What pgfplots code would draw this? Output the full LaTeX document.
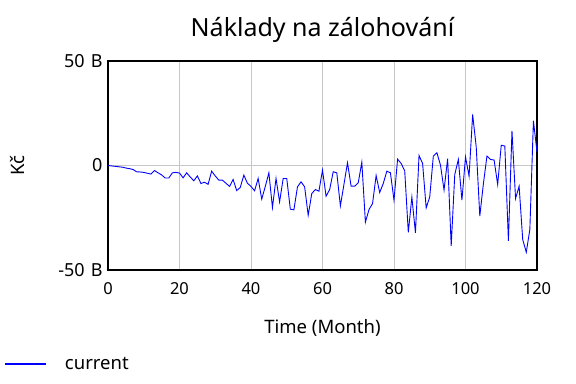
\documentclass[border=0pt]{standalone}
\usepackage{fontspec}
\setmainfont{Noto Sans}
\usepackage{pgfplots}
\pgfplotsset{compat=1.18}
\pgfplotstableread{
m v
0 0
1 -0.2
2 -0.4
3 -0.6
4 -0.8
5 -1.2
6 -1.5
7 -1.9
8 -3.0
9 -3.1
10 -3.3
11 -3.7
12 -4.1
13 -2.4
14 -3.5
15 -4.5
16 -6.0
17 -6.0
18 -3.5
19 -3.3
20 -3.6
21 -5.9
22 -3.5
23 -5.5
24 -7.3
25 -5.0
26 -8.6
27 -8.0
28 -9.0
29 -2.7
30 -5.0
31 -7.0
32 -7.0
33 -8.5
34 -10.0
35 -6.7
36 -12.0
37 -10.5
38 -4.6
39 -8.5
40 -10.0
41 -12.1
42 -6.2
43 -16.1
44 -10.0
45 -3.5
46 -20.1
47 -6.2
48 -17.4
49 -6.2
50 -6.2
51 -20.9
52 -21.2
53 -10.2
54 -7.8
55 -10.2
56 -23.8
57 -13.4
58 -11.5
59 -12.3
60 -2.2
61 -14.7
62 -11.5
63 -3.0
64 -3.5
65 -19.3
66 -9.0
67 1.3
68 -9.9
69 -9.9
70 -8.3
71 1.6
72 -27.1
73 -21.1
74 -18.2
75 -4.8
76 -12.9
77 -8.6
78 -2.7
79 -3.5
80 -16.6
81 3.0
82 1.0
83 -2.6
84 -32.0
85 -15.1
86 -32.2
87 4.8
88 1.0
89 -20.3
90 -15.0
91 4.5
92 6.1
93 0.2
94 -11.8
95 3.3
96 -38.4
97 -4.3
98 2.9
99 -16.6
100 4.1
101 -5.1
102 24.4
103 8.9
104 -24.2
105 -8.8
106 4.5
107 2.9
108 2.6
109 -9.1
110 9.7
111 9.3
112 -36.0
113 16.6
114 -15.8
115 -9.9
116 -35.4
117 -41.5
118 -30.6
119 21.4
120 6.4
}\datatable
\begin{document}
\begin{tikzpicture}
\begin{axis}[
 at={(0,0)}, anchor=south west,
 scale only axis, width=429bp, height=209bp,
 xmin=0, xmax=120, ymin=-50, ymax=50,
 xtick={0,20,...,120}, ytick={-50,0,50},
 yticklabels={-50\hspace{6bp}B,0,50\hspace{6bp}B},
 major tick length=0pt,
 grid=major, grid style={draw=black!22, line width=0.8bp},
 axis line style={line width=2.5bp},
 tick label style={font=\fontsize{16.5bp}{19bp}\selectfont},
 /pgf/number format/assume math mode=true,
 xticklabel style={anchor=base, yshift=-24bp},
 yticklabel style={anchor=east, xshift=-2bp, font=\fontsize{18bp}{21bp}\selectfont},
 title={Náklady na zálohování},
 title style={font=\fontsize{25bp}{29bp}\selectfont, anchor=base, at={(axis description cs:0.5,1)}, yshift=19bp},
 xlabel={Time (Month)},
 xlabel style={font=\fontsize{18.5bp}{22bp}\selectfont, anchor=base, at={(axis description cs:0.5,0)}, yshift=-63bp},
 ylabel={Kč},
 ylabel style={font=\fontsize{18.5bp}{22bp}\selectfont, anchor=center, at={(axis description cs:-0.2098,0.5)}},
 legend style={at={(axis description cs:-0.2424,-0.4498)}, anchor=west, draw=none, fill=none, inner sep=0pt, column sep=16bp, font=\fontsize{18.5bp}{22bp}\selectfont},
 legend cell align=left,
 legend image code/.code={\draw[#1, line width=1.8bp] (0bp,0bp) -- (41bp,0bp);},
]
\addplot[color={rgb,255:red,0;green,0;blue,255}, line width=0.9bp, mark=none] table[x=m, y=v] {\datatable};
\addlegendentry{current}
\end{axis}
\path[use as bounding box] (-108bp,-114bp) rectangle (468bp,270bp);
\end{tikzpicture}
\end{document}
